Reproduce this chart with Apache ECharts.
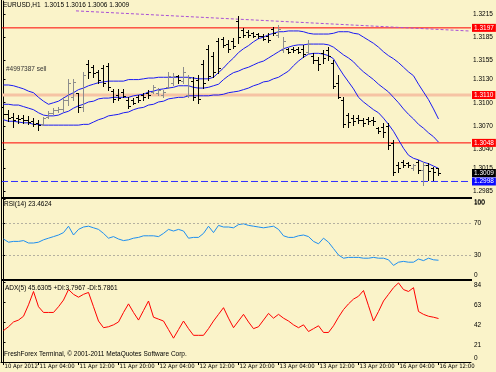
<!DOCTYPE html>
<html>
<head>
<meta charset="utf-8">
<style>
html, body { margin: 0; padding: 0; background: #faf3c9; }
#chart { width: 496px; height: 372px; }
</style>
<script src="https://cdn.jsdelivr.net/npm/echarts@6.0.0/dist/echarts.min.js"></script>
</head>
<body>
<div id="chart"></div>
<script>
// EURUSD H1, 10 Apr 21:00 .. 16 Apr 12:00 (88 bars)
const opens = [1.3094,1.3086,1.3081,1.3080,1.3080,1.3078,1.3076,1.3074,1.3072,1.3081,
  1.3087,1.3090,1.3092,1.3103,1.3108,1.3112,1.3094,1.3150,1.3146,1.3140,
  1.3145,1.3148,1.3115,1.3110,1.3114,1.3104,1.3104,1.3107,1.3110,1.3113,
  1.3114,1.3112,1.3110,1.3121,1.3126,1.3134,1.3128,1.3110,1.3128,1.3130,
  1.3150,1.3170,1.3160,1.3180,1.3182,1.3176,1.3180,1.3206,1.3194,1.3192,
  1.3190,1.3189,1.3187,1.3187,1.3195,1.3188,1.3168,1.3169,1.3170,1.3170,
  1.3170,1.3166,1.3160,1.3155,1.3165,1.3168,1.3152,1.3125,1.3104,1.3084,
  1.3080,1.3080,1.3078,1.3079,1.3078,1.3067,1.3068,1.3070,1.3048,1.3020,
  1.3023,1.3022,1.3015,1.3023,1.3013,1.3020,1.3015,1.3015];
const highs = [1.3097,1.3091,1.3087,1.3084,1.3084,1.3083,1.3080,1.3078,1.3082,1.3089,
  1.3093,1.3094,1.3107,1.3131,1.3131,1.3113,1.3140,1.3155,1.3149,1.3142,
  1.3149,1.3151,1.3118,1.3118,1.3118,1.3107,1.3106,1.3110,1.3113,1.3117,
  1.3123,1.3119,1.3117,1.3140,1.3139,1.3136,1.3146,1.3136,1.3133,1.3136,
  1.3155,1.3175,1.3166,1.3184,1.3185,1.3181,1.3184,1.3212,1.3197,1.3194,
  1.3192,1.3190,1.3189,1.3190,1.3198,1.3201,1.3185,1.3171,1.3172,1.3172,
  1.3175,1.3181,1.3164,1.3159,1.3168,1.3172,1.3155,1.3136,1.3107,1.3087,
  1.3084,1.3084,1.3080,1.3082,1.3082,1.3069,1.3074,1.3074,1.3052,1.3023,
  1.3026,1.3023,1.3021,1.3026,1.3023,1.3022,1.3017,1.3016];
const lows = [1.3082,1.3076,1.3069,1.3074,1.3074,1.3072,1.3070,1.3065,1.3071,1.3080,
  1.3085,1.3088,1.3089,1.3097,1.3104,1.3088,1.3089,1.3132,1.3133,1.3126,
  1.3122,1.3117,1.3101,1.3104,1.3107,1.3093,1.3098,1.3101,1.3104,1.3106,
  1.3113,1.3110,1.3107,1.3119,1.3123,1.3126,1.3126,1.3107,1.3104,1.3100,
  1.3119,1.3129,1.3133,1.3139,1.3172,1.3166,1.3171,1.3177,1.3185,1.3185,
  1.3185,1.3184,1.3181,1.3179,1.3188,1.3185,1.3166,1.3164,1.3166,1.3164,
  1.3159,1.3164,1.3151,1.3142,1.3151,1.3155,1.3119,1.3106,1.3069,1.3069,
  1.3071,1.3074,1.3070,1.3072,1.3071,1.3061,1.3056,1.3040,1.3006,1.3010,
  1.3017,1.3017,1.3013,1.3009,1.2993,1.3000,1.3000,1.3006];
const closes = [1.3085,1.3080,1.3078,1.3079,1.3077,1.3075,1.3073,1.3071,1.3080,1.3087,
  1.3091,1.3092,1.3104,1.3126,1.3127,1.3094,1.3136,1.3140,1.3138,1.3130,
  1.3126,1.3120,1.3105,1.3106,1.3109,1.3096,1.3100,1.3104,1.3107,1.3110,
  1.3120,1.3117,1.3114,1.3135,1.3135,1.3130,1.3140,1.3132,1.3108,1.3105,
  1.3125,1.3135,1.3140,1.3145,1.3175,1.3170,1.3174,1.3185,1.3188,1.3188,
  1.3187,1.3186,1.3183,1.3181,1.3190,1.3196,1.3180,1.3166,1.3168,1.3166,
  1.3163,1.3176,1.3155,1.3150,1.3158,1.3160,1.3122,1.3108,1.3072,1.3075,
  1.3076,1.3078,1.3074,1.3076,1.3076,1.3063,1.3062,1.3045,1.3010,1.3016,
  1.3020,1.3020,1.3019,1.3013,1.3019,1.3012,1.3010,1.3009];

// Bollinger bands
const bbUpper = [1.3123,1.3123,1.3122,1.3120,1.3118,1.3115,1.3113,1.3107,1.3102,1.3098,
  1.3100,1.3102,1.3106,1.3110,1.3113,1.3117,1.3119,1.3122,1.3124,1.3126,
  1.3127,1.3128,1.3128,1.3128,1.3128,1.3130,1.3130,1.3130,1.3131,1.3132,
  1.3132,1.3133,1.3133,1.3133,1.3133,1.3133,1.3133,1.3133,1.3132,1.3131,
  1.3131,1.3131,1.3133,1.3139,1.3145,1.3152,1.3158,1.3165,1.3170,1.3174,
  1.3179,1.3183,1.3185,1.3188,1.3190,1.3192,1.3192,1.3193,1.3193,1.3193,
  1.3192,1.3190,1.3189,1.3189,1.3189,1.3189,1.3190,1.3192,1.3192,1.3192,
  1.3190,1.3189,1.3185,1.3181,1.3177,1.3172,1.3166,1.3161,1.3157,1.3152,
  1.3146,1.3140,1.3135,1.3124,1.3114,1.3104,1.3092,1.3079];
const bbMiddle = [1.3098,1.3098,1.3097,1.3097,1.3095,1.3093,1.3091,1.3087,1.3084,1.3083,
  1.3083,1.3084,1.3087,1.3089,1.3093,1.3096,1.3098,1.3101,1.3102,1.3105,
  1.3106,1.3106,1.3107,1.3107,1.3107,1.3107,1.3109,1.3110,1.3111,1.3114,
  1.3115,1.3117,1.3118,1.3119,1.3120,1.3122,1.3122,1.3122,1.3120,1.3119,
  1.3119,1.3120,1.3122,1.3124,1.3130,1.3135,1.3139,1.3141,1.3144,1.3146,
  1.3149,1.3152,1.3154,1.3158,1.3162,1.3166,1.3170,1.3172,1.3174,1.3175,
  1.3175,1.3176,1.3176,1.3176,1.3176,1.3175,1.3172,1.3167,1.3162,1.3158,
  1.3153,1.3146,1.3140,1.3135,1.3130,1.3124,1.3119,1.3114,1.3107,1.3100,
  1.3092,1.3085,1.3079,1.3072,1.3067,1.3061,1.3056,1.3049];
const bbLower = [1.3078,1.3076,1.3076,1.3075,1.3074,1.3074,1.3072,1.3072,1.3071,1.3071,
  1.3071,1.3071,1.3071,1.3071,1.3071,1.3071,1.3072,1.3072,1.3075,1.3078,
  1.3080,1.3083,1.3084,1.3085,1.3087,1.3088,1.3091,1.3093,1.3094,1.3097,
  1.3098,1.3101,1.3102,1.3105,1.3106,1.3107,1.3107,1.3109,1.3109,1.3109,
  1.3109,1.3109,1.3110,1.3110,1.3111,1.3113,1.3114,1.3115,1.3117,1.3119,
  1.3122,1.3124,1.3127,1.3128,1.3131,1.3133,1.3137,1.3141,1.3148,1.3154,
  1.3159,1.3163,1.3164,1.3164,1.3163,1.3161,1.3157,1.3146,1.3136,1.3127,
  1.3118,1.3107,1.3101,1.3096,1.3091,1.3087,1.3080,1.3072,1.3063,1.3052,
  1.3041,1.3032,1.3028,1.3026,1.3023,1.3021,1.3018,1.3015];

const rsiValues = [50,46,47,47,48,45,45,46,49,51,
  53,55,58,66,55,62,65,66,64,62,
  57,51,53,50,48,49,51,52,54,54,
  54,53,57,62,60,62,60,51,52,52,
  57,66,58,67,65,65,64,68,69,67,
  66,65,64,65,66,62,54,52,52,54,
  55,53,47,44,51,46,38,30,26,27,
  27,27,26,26,27,26,26,24,17,21,
  22,21,21,25,23,26,24,23.4624];
const adxValues = [33,37,42,44,48,60,74,58,52,52,
  52,58,65,76,71,68,71,73,58,43,
  36,37,39,42,52,61,52,44,54,64,
  47,45,43,34,25,34,43,35,28,28,
  28,35,43,50,57,46,36,43,50,42,
  35,37,44,51,46,50,46,43,39,36,
  39,32,35,38,31,31,38,47,55,61,
  66,69,75,59,43,53,64,71,78,83,
  76,74,78,53,50,48,47,45.6305];
const plusDI = 3.7967, minusDI = 5.7861;

// horizontal levels and trendline
const redLevels = [1.3197, 1.3048];
const zoneLevel = 1.3110;
const stopLevel = 1.2998;
const trendLine = [[14.5, 1.3219], [93, 1.3193]];

// axis ticks
const priceTicks = [1.3215, 1.3185, 1.3155, 1.3130, 1.3100, 1.3070, 1.3040, 1.3015, 1.2985];
const rsiTicks = [0, 30, 70, 100];
const adxTicks = [0, 21, 42, 63, 84];
const timeTicks = [0, 7, 15, 23, 31, 39, 47, 55, 63, 71, 79, 87];
const timeLabels = ['10 Apr 2012', '11 Apr 04:00', '11 Apr 12:00', '11 Apr 20:00', '12 Apr 04:00',
  '12 Apr 12:00', '12 Apr 20:00', '13 Apr 04:00', '13 Apr 12:00', '13 Apr 20:00',
  '16 Apr 04:00', '16 Apr 12:00'];

// pick a narrow face if the machine has one
function hasFont(name) {
  const ctx = document.createElement('canvas').getContext('2d');
  const s = 'mmmmmmmmmmlli 0123456789 Apr';
  ctx.font = '20px monospace';
  const a = ctx.measureText(s).width;
  ctx.font = "20px '" + name + "', monospace";
  return ctx.measureText(s).width !== a;
}
const FONT = "'Liberation Sans', Arial, sans-serif";
let NARROW = FONT, NARROW_FS = 5.6;
if (hasFont('Liberation Sans Narrow')) { NARROW = "'Liberation Sans Narrow', " + FONT; NARROW_FS = 6.8; }
else if (hasFont('DejaVu Sans Condensed')) { NARROW = "'DejaVu Sans Condensed', " + FONT; NARROW_FS = 6; }
const FS = 6.5;
const last = closes.length - 1;
const X_MIN = -0.5, X_MAX = 93.5;

const ohlc = opens.map((o, i) => [i, o, highs[i], lows[i], closes[i]]);
const pairs = arr => arr.map((v, i) => [i, v]);

function renderBar(params, api) {
  const i = api.value(0);
  const o = api.coord([i, api.value(1)]);
  const h = api.coord([i, api.value(2)]);
  const l = api.coord([i, api.value(3)]);
  const c = api.coord([i, api.value(4)]);
  const x = Math.floor(h[0]) + 0.5;
  const style = { stroke: api.value(4) > api.value(1) ? '#8c8c8c' : '#000', lineWidth: 1 };
  const yo = Math.round(o[1]) + 0.5, yc = Math.round(c[1]) + 0.5;
  return {
    type: 'group',
    children: [
      { type: 'line', shape: { x1: x, y1: Math.round(h[1]), x2: x, y2: Math.round(l[1]) + 1 }, style },
      { type: 'line', shape: { x1: x - 2.5, y1: yo, x2: x - 0.5, y2: yo }, style },
      { type: 'line', shape: { x1: x + 0.5, y1: yc, x2: x + 2.5, y2: yc }, style }
    ]
  };
}

// one horizontal level across the panel, with its price box past the right edge
function levelSeries(value, lineColor, width, type, boxColor) {
  return {
    type: 'line', xAxisIndex: 0, yAxisIndex: 0, z: 1, symbol: 'none', silent: true,
    data: [[X_MIN, value], [X_MAX, value]],
    color: boxColor,
    lineStyle: { color: lineColor, width: width, type: type },
    endLabel: {
      show: true, distance: 1, color: '#fff', backgroundColor: boxColor,
      padding: [1, 2, 0, 2], fontSize: FS, fontFamily: FONT,
      formatter: () => value.toFixed(4)
    }
  };
}

const xBase = { type: 'value', min: X_MIN, max: X_MAX, show: false };
const lbl = { fontSize: FS, fontFamily: FONT, color: '#000', hideOverlap: false };

const chart = echarts.init(document.getElementById('chart'));
const option = {
  animation: false,
  backgroundColor: '#faf3c9',
  grid: [
    { left: 1, top: 1, width: 470, height: 196 },
    { left: 1, top: 199, width: 470, height: 80 },
    { left: 1, top: 281, width: 470, height: 81 }
  ],
  xAxis: [
    Object.assign({ gridIndex: 0 }, xBase),
    Object.assign({ gridIndex: 1 }, xBase),
    {
      type: 'value', gridIndex: 2, min: X_MIN, max: X_MAX, position: 'bottom',
      axisLine: { show: true, lineStyle: { color: '#000' } },
      axisTick: { show: true, customValues: timeTicks, length: 3, lineStyle: { color: '#000' } },
      axisLabel: Object.assign({}, lbl, {
        customValues: timeTicks, align: 'left', margin: 1, padding: [0, 0, 0, 1],
        showMinLabel: true, showMaxLabel: true, fontFamily: NARROW, fontSize: NARROW_FS,
        formatter: v => timeLabels[timeTicks.indexOf(v)]
      }),
      splitLine: { show: false }
    }
  ],
  yAxis: [
    {
      type: 'value', gridIndex: 0, position: 'right', min: 1.29779, max: 1.32318,
      axisLine: { show: true, lineStyle: { color: '#000' } },
      axisTick: { show: true, customValues: priceTicks, length: 2, lineStyle: { color: '#000' } },
      axisLabel: Object.assign({ customValues: priceTicks, margin: 2, formatter: v => v.toFixed(4) }, lbl),
      splitLine: { show: false }
    },
    {
      type: 'value', gridIndex: 1, position: 'right', min: 0, max: 100,
      axisLine: { show: true, lineStyle: { color: '#000' } },
      axisTick: { show: true, customValues: rsiTicks, length: 2, lineStyle: { color: '#000' } },
      axisLabel: Object.assign({
        customValues: rsiTicks, margin: 3, showMinLabel: true, showMaxLabel: true,
        verticalAlignMinLabel: 'bottom', verticalAlignMaxLabel: 'top'
      }, lbl),
      splitLine: { show: false }
    },
    {
      type: 'value', gridIndex: 2, position: 'right', min: 0, max: 85,
      axisLine: { show: true, lineStyle: { color: '#000' } },
      axisTick: { show: true, customValues: adxTicks, length: 2, lineStyle: { color: '#000' } },
      axisLabel: Object.assign({
        customValues: adxTicks, margin: 3, showMinLabel: true, showMaxLabel: true,
        verticalAlign: 'top', verticalAlignMinLabel: 'bottom'
      }, lbl),
      splitLine: { show: false }
    }
  ],
  series: [
    levelSeries(redLevels[0], '#ff0000', 1, 'solid', '#ff0000'),
    levelSeries(zoneLevel, '#f6c3a4', 3, 'solid', '#ff0000'),
    levelSeries(redLevels[1], '#ff0000', 1, 'solid', '#ff0000'),
    levelSeries(stopLevel, '#2f2fff', 1, [7, 3], '#0a0aff'),
    levelSeries(closes[last], 'rgba(0,0,0,0)', 1, 'solid', '#000'),
    {
      type: 'line', xAxisIndex: 0, yAxisIndex: 0, data: trendLine, symbol: 'none', z: 2, silent: true,
      lineStyle: { color: '#a94fd6', width: 1, type: [3, 2] }
    },
    { type: 'line', xAxisIndex: 0, yAxisIndex: 0, data: pairs(bbUpper), symbol: 'none', z: 3,
      lineStyle: { color: '#1a1af4', width: 1 } },
    { type: 'line', xAxisIndex: 0, yAxisIndex: 0, data: pairs(bbMiddle), symbol: 'none', z: 3,
      lineStyle: { color: '#1a1af4', width: 1 } },
    { type: 'line', xAxisIndex: 0, yAxisIndex: 0, data: pairs(bbLower), symbol: 'none', z: 3,
      lineStyle: { color: '#1a1af4', width: 1 } },
    {
      type: 'custom', xAxisIndex: 0, yAxisIndex: 0, data: ohlc, renderItem: renderBar, z: 4,
      encode: { x: 0, y: [1, 2, 3, 4] }, clip: true
    },
    {
      type: 'line', xAxisIndex: 1, yAxisIndex: 1, data: pairs(rsiValues), symbol: 'none',
      lineStyle: { color: '#1e8ff0', width: 1 },
      markLine: {
        silent: true, symbol: 'none', animation: false, label: { show: false },
        lineStyle: { color: '#b4b0a0', width: 1, type: [2, 2] },
        data: [{ yAxis: 30 }, { yAxis: 70 }]
      }
    },
    {
      type: 'line', xAxisIndex: 2, yAxisIndex: 2, data: pairs(adxValues), symbol: 'none',
      lineStyle: { color: '#ff0000', width: 1 }
    }
  ],
  graphic: [
    { type: 'rect', shape: { x: 1, y: 197, width: 471, height: 2 }, style: { fill: '#000' }, z: 100 },
    { type: 'rect', shape: { x: 1, y: 279, width: 471, height: 2 }, style: { fill: '#000' }, z: 100 },
    { type: 'line', shape: { x1: 1.5, y1: 0, x2: 1.5, y2: 362 }, style: { stroke: '#000', lineWidth: 1 }, z: 100 },
    { type: 'text', x: 474, y: 200, z: 100,
      style: { text: String(rsiTicks[3]), fill: '#000', font: FS + 'px ' + FONT } },
    { type: 'text', left: 3, top: 2, z: 100,
      style: { text: 'EURUSD,H1  ' + [opens[last], highs[last], lows[last], closes[last]].map(v => v.toFixed(4)).join(' '),
        fill: '#000', font: FS + 'px ' + FONT } },
    { type: 'text', left: 6, top: 66, z: 100, style: { text: '#4997387 sell', fill: '#333', font: FS + 'px ' + FONT } },
    { type: 'text', left: 4, top: 201, z: 100,
      style: { text: 'RSI(14) ' + rsiValues[last].toFixed(4), fill: '#000', font: FS + 'px ' + FONT } },
    { type: 'text', left: 5, top: 285, z: 100,
      style: { text: 'ADX(5) ' + adxValues[last].toFixed(4) + ' +DI:' + plusDI.toFixed(4) + ' -DI:' + minusDI.toFixed(4),
        fill: '#000', font: FS + 'px ' + FONT } },
    { type: 'text', left: 4, top: 351, z: 100,
      style: { text: 'FreshForex Terminal, \u00a9 2001-2011 MetaQuotes Software Corp.', fill: '#000', font: FS + 'px ' + FONT } }
  ]
};
chart.setOption(option);
</script>
</body>
</html>
